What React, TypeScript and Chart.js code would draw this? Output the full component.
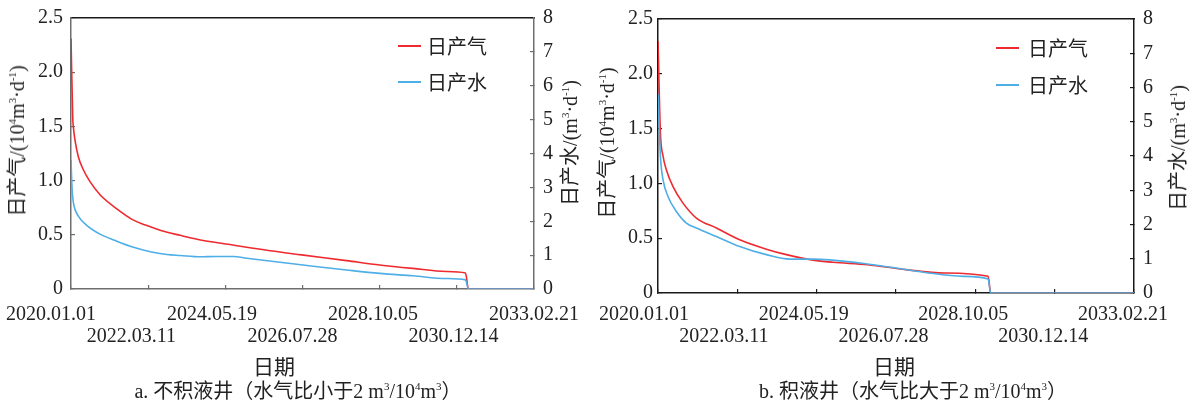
import React, { useEffect, useRef } from 'react';
import { Chart, registerables } from 'chart.js';

Chart.register(...registerables);

// ---------- data ----------
const X_TICK_LABELS = ['2020.01.01', '2022.03.11', '2024.05.19', '2026.07.28', '2028.10.05', '2030.12.14', '2033.02.21'];
const X_TICK_STEP = 800; // days between date ticks
const X_TICK_LAST = 4800; // days from 2020.01.01 to 2033.02.21
const LEGEND_LABELS = ['日产气', '日产水'];

// panel a (days since 2020.01.01)
const GAS_DAYS_A = [0, 18, 24, 42, 76, 128, 197, 301, 475, 648, 773, 932, 1132, 1330, 1649, 1822, 2046, 2390, 2856, 3200, 3545, 3890, 4090, 4120, 4800];
const GAS_A = [2.31, 1.58, 1.5, 1.37, 1.22, 1.1, 0.99, 0.87, 0.74, 0.635, 0.59, 0.54, 0.495, 0.455, 0.41, 0.385, 0.355, 0.315, 0.262, 0.222, 0.19, 0.162, 0.148, 0, 0];
const WATER_DAYS_A = [0, 10, 18, 31, 76, 163, 301, 475, 648, 821, 994, 1132, 1340, 1500, 1685, 1822, 2166, 2511, 2856, 3200, 3545, 3890, 4090, 4120, 4800];
const WATER_A = [3.81, 3.0, 2.7, 2.45, 2.15, 1.88, 1.62, 1.41, 1.23, 1.1, 1.02, 0.99, 0.95, 0.96, 0.96, 0.91, 0.79, 0.67, 0.56, 0.46, 0.39, 0.31, 0.27, 0, 0];

// panel b
const GAS_DAYS_B = [0, 25, 52, 86, 155, 258, 396, 603, 843, 1119, 1325, 1600, 1806, 2163, 2558, 2953, 3407, 3434, 4913];
const GAS_B = [2.3, 1.46, 1.25, 1.125, 0.97, 0.82, 0.684, 0.593, 0.486, 0.4, 0.35, 0.3, 0.28, 0.258, 0.213, 0.182, 0.152, 0, 0];
const WATER_DAYS_B = [0, 25, 52, 103, 190, 293, 396, 603, 843, 1119, 1359, 1600, 2084, 2400, 2756, 3151, 3407, 3434, 4913];
const WATER_B = [5.8, 3.99, 3.31, 2.82, 2.38, 2.04, 1.9, 1.65, 1.36, 1.12, 0.99, 0.99, 0.876, 0.75, 0.6, 0.485, 0.41, 0, 0];

const GAS_MAX = 2.5;
const GAS_STEP = 0.5;
const WATER_MAX = 8;
const WATER_STEP = 1;

// ---------- styling ----------
const RED = '#ee2a2f';
const BLUE = '#4eaee6';
const TEXT = '#222';
const FONT = "'Liberation Serif', 'Noto Sans CJK SC', serif";
const CJK = "'Noto Sans CJK SC', 'Liberation Serif', sans-serif";

type Panel = {
  xMax: number; labelStart: number;
  gasDays: number[]; gas: number[]; waterDays: number[]; water: number[];
  leftW: number; rightW: number; topH: number; bottomH: number;
  yPadL: number; yPadR: number; xPad: number;
  sideColor: string; topColor: string;
  legendRight: number; legendTop: number; legendGap: number; legendText: number;
};

const PANEL_A: Panel = {
  xMax: 4800, labelStart: -208,
  gasDays: GAS_DAYS_A, gas: GAS_A, waterDays: WATER_DAYS_A, water: WATER_A,
  leftW: 71, rightW: 66, topH: 18, bottomH: 116,
  yPadL: 12, yPadR: 13, xPad: 14.5,
  sideColor: '#6e6e6e', topColor: '#1a1a1a',
  legendRight: 136, legendTop: 28, legendGap: 36, legendText: 29,
};
const PANEL_B: Panel = {
  xMax: 4913, labelStart: -145,
  gasDays: GAS_DAYS_B, gas: GAS_B, waterDays: WATER_DAYS_B, water: WATER_B,
  leftW: 58, rightW: 65, topH: 19, bottomH: 112,
  yPadL: 9, yPadR: 13, xPad: 10.5,
  sideColor: '#1a1a1a', topColor: '#1a1a1a',
  legendRight: 138, legendTop: 29, legendGap: 37, legendText: 32,
};

const innerLegend = {
  id: 'innerLegend',
  afterDatasetsDraw(chart: any, _args: any, opts: any) {
    const { ctx, chartArea } = chart;
    chart.data.datasets.forEach((ds: any, i: number) => {
      const y = chartArea.top + opts.top + i * opts.gap;
      const x0 = chartArea.right - opts.right;
      ctx.save();
      ctx.strokeStyle = ds.borderColor;
      ctx.lineWidth = 2;
      ctx.beginPath();
      ctx.moveTo(x0, y);
      ctx.lineTo(x0 + 23, y);
      ctx.stroke();
      ctx.fillStyle = TEXT;
      ctx.font = `20px ${CJK}`;
      ctx.textBaseline = 'middle';
      ctx.textAlign = 'left';
      ctx.fillText(ds.label, x0 + opts.text, y);
      ctx.restore();
    });
  },
};

function zeroPad(s: any) {
  s.paddingLeft = 0; s.paddingRight = 0; s.paddingTop = 0; s.paddingBottom = 0;
}

function makeConfig(p: Panel): any {
  const tickFont = { family: FONT, size: 20 };
  return {
    type: 'line',
    data: {
      datasets: [
        {
          label: LEGEND_LABELS[0],
          data: p.gasDays.map((d, i) => ({ x: d, y: p.gas[i] })),
          borderColor: RED, backgroundColor: RED, borderWidth: 1.6,
          pointRadius: 0, cubicInterpolationMode: 'monotone',
          xAxisID: 'x', yAxisID: 'y', order: 1,
        },
        {
          label: LEGEND_LABELS[1],
          data: p.waterDays.map((d, i) => ({ x: d, y: p.water[i] })),
          borderColor: BLUE, backgroundColor: BLUE, borderWidth: 1.6,
          pointRadius: 0, cubicInterpolationMode: 'monotone',
          xAxisID: 'x', yAxisID: 'y2', order: 0,
        },
      ],
    },
    options: {
      animation: false,
      responsive: false,
      maintainAspectRatio: false,
      events: [],
      layout: { padding: 0 },
      plugins: {
        legend: { display: false },
        tooltip: { enabled: false },
        innerLegend: { right: p.legendRight, top: p.legendTop, gap: p.legendGap, text: p.legendText },
      },
      scales: {
        x: {
          type: 'linear', position: 'bottom', min: 0, max: p.xMax, weight: 0,
          ticks: { display: false, stepSize: X_TICK_STEP, includeBounds: false, autoSkip: false, maxRotation: 0, minRotation: 0 },
          grid: { drawOnChartArea: false, drawTicks: true, tickLength: -4, color: p.sideColor, lineWidth: 1.2 },
          border: { display: true, color: p.sideColor, width: 1.5 },
          afterFit: (s: any) => { s.height = 0; zeroPad(s); },
        },
        xl: {
          type: 'linear', position: 'bottom', min: 0, max: p.xMax, weight: 1,
          grid: { display: false, drawTicks: false },
          border: { display: false },
          ticks: {
            autoSkip: false, maxRotation: 0, minRotation: 0, padding: p.xPad,
            font: { family: FONT, size: 20, lineHeight: 22 / 20 }, color: TEXT,
            callback: (_v: any, i: number) => (i % 2 === 0 ? X_TICK_LABELS[i] : ['', X_TICK_LABELS[i]]),
          },
          afterBuildTicks: (s: any) => {
            const n = X_TICK_LABELS.length - 1;
            s.ticks = X_TICK_LABELS.map((_l, i) => ({ value: p.labelStart + (i * (X_TICK_LAST - p.labelStart)) / n }));
          },
          afterFit: (s: any) => { s.height = p.bottomH; zeroPad(s); },
        },
        xt: {
          type: 'linear', position: 'top', min: 0, max: p.xMax,
          ticks: { display: false },
          grid: { display: false, drawTicks: false },
          border: { display: true, color: p.topColor, width: 1.5 },
          afterFit: (s: any) => { s.height = p.topH; zeroPad(s); },
        },
        y: {
          type: 'linear', position: 'left', min: 0, max: GAS_MAX,
          ticks: {
            stepSize: GAS_STEP, padding: p.yPadL, font: tickFont, color: TEXT,
            callback: (v: number) => (v === 0 ? '0' : v.toFixed(1)),
          },
          grid: { drawOnChartArea: false, drawTicks: true, tickLength: -4, color: p.sideColor, lineWidth: 1.2 },
          border: { display: true, color: p.sideColor, width: 1.5 },
          afterFit: (s: any) => { s.width = p.leftW; zeroPad(s); },
        },
        y2: {
          type: 'linear', position: 'right', min: 0, max: WATER_MAX,
          ticks: { stepSize: WATER_STEP, padding: p.yPadR, font: tickFont, color: TEXT, callback: (v: number) => String(v) },
          grid: { drawOnChartArea: false, drawTicks: true, tickLength: -4, color: p.sideColor, lineWidth: 1.2 },
          border: { display: true, color: p.sideColor, width: 1.5 },
          afterFit: (s: any) => { s.width = p.rightW; zeroPad(s); },
        },
      },
    },
    plugins: [innerLegend],
  };
}

const supStyle: React.CSSProperties = { fontSize: '0.55em', verticalAlign: '0.75em', lineHeight: 0 };

function VTitle({ cx, cy, children }: { cx: number; cy: number; children: React.ReactNode }) {
  return (
    <div
      style={{
        position: 'absolute', left: cx, top: cy, transform: 'translate(-50%, -50%) rotate(-90deg)',
        whiteSpace: 'nowrap', fontFamily: FONT, fontSize: 20, color: TEXT, lineHeight: '22px',
      }}
    >
      {children}
    </div>
  );
}

function HText({ cx, cy, size, children }: { cx: number; cy: number; size: number; children: React.ReactNode }) {
  return (
    <div
      style={{
        position: 'absolute', left: cx, top: cy, transform: 'translate(-50%, -50%)',
        whiteSpace: 'nowrap', fontFamily: FONT, fontSize: size, color: TEXT, lineHeight: '22px',
      }}
    >
      {children}
    </div>
  );
}

const GasTitle = () => (
  <>日产气/(10<sup style={supStyle}>4</sup>m<sup style={supStyle}>3</sup>·d<sup style={supStyle}>-1</sup>)</>
);
const WaterTitle = () => (
  <>日产水/(m<sup style={supStyle}>3</sup>·d<sup style={supStyle}>-1</sup>)</>
);

export default function App() {
  const refA = useRef<HTMLCanvasElement | null>(null);
  const refB = useRef<HTMLCanvasElement | null>(null);

  useEffect(() => {
    const a = new Chart(refA.current as HTMLCanvasElement, makeConfig(PANEL_A));
    const b = new Chart(refB.current as HTMLCanvasElement, makeConfig(PANEL_B));
    return () => { a.destroy(); b.destroy(); };
  }, []);

  return (
    <div style={{ position: 'absolute', left: 0, top: 0, width: 1199, height: 405, background: '#fff', overflow: 'hidden' }}>
      <canvas ref={refA} width={600} height={405} style={{ position: 'absolute', left: 0, top: 0, width: 600, height: 405 }} />
      <canvas ref={refB} width={599} height={405} style={{ position: 'absolute', left: 600, top: 0, width: 599, height: 405 }} />

      <VTitle cx={17} cy={141}><GasTitle /></VTitle>
      <VTitle cx={570} cy={143}><WaterTitle /></VTitle>
      <VTitle cx={607} cy={143}><GasTitle /></VTitle>
      <VTitle cx={1178} cy={148}><WaterTitle /></VTitle>

      <HText cx={274} cy={367} size={21}>日期</HText>
      <HText cx={894} cy={367} size={21}>日期</HText>
      <HText cx={298} cy={391} size={20}>
        a. 不积液井（水气比小于2 m<sup style={supStyle}>3</sup>/10<sup style={supStyle}>4</sup>m<sup style={supStyle}>3</sup>）
      </HText>
      <HText cx={913} cy={391} size={20}>
        b. 积液井（水气比大于2 m<sup style={supStyle}>3</sup>/10<sup style={supStyle}>4</sup>m<sup style={supStyle}>3</sup>）
      </HText>
    </div>
  );
}
